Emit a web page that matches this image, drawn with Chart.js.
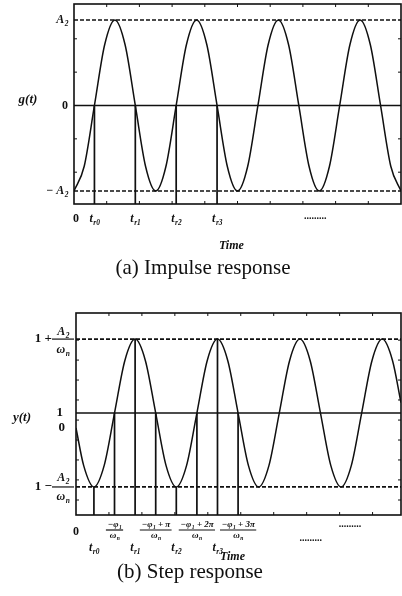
<!DOCTYPE html>
<html>
<head>
<meta charset="utf-8">
<script src="https://cdn.jsdelivr.net/npm/chart.js@4.4.1/dist/chart.umd.min.js"></script>
<style>
    html, body { margin: 0; padding: 0; background: #fff; }
    body { width: 402px; height: 596px; position: relative; overflow: hidden; }
    canvas { position: absolute; left: 0; }
    #impulseChart { top: 0; }
    #stepChart { top: 300px; }
</style>
</head>
<body>
<canvas id="impulseChart" width="402" height="292"></canvas>
<canvas id="stepChart" width="402" height="296"></canvas>
<script>
// Time axis is in quarter periods of the oscillation

// (a) impulse response g(t), in units of A2
const impulseTime = [0, 0.5, 1, 1.5, 2, 2.5, 3, 3.5, 4, 4.5, 5, 5.5, 6, 6.5, 7, 7.5, 8,
    8.5, 9, 9.5, 10, 10.5, 11, 11.5, 12, 12.5, 13, 13.5, 14, 14.5, 15, 15.5, 16];
const impulseValues = [-1, -0.71, 0, 0.71, 1, 0.71, 0, -0.71, -1, -0.71, 0, 0.71, 1, 0.71, 0, -0.71, -1,
    -0.71, 0, 0.71, 1, 0.71, 0, -0.71, -1, -0.71, 0, 0.71, 1, 0.71, 0, -0.71, -1];
const impulseMarkTimes = [1, 3, 5, 7];
const impulseTickTimes = [0, 1, 3, 5, 7];
const impulseTickLabels = ['0', 't_r0', 't_r1', 't_r2', 't_r3'];
const impulseLevels = [1, 0, -1];
const impulseLevelLabels = ['A_2', '0', '− A_2'];

// (b) step response y(t)
const stepTime = [0, 0.37, 0.87, 1.37, 1.87, 2.37, 2.87, 3.37, 3.87, 4.37, 4.87, 5.37, 5.87, 6.37, 6.87,
    7.37, 7.87, 8.37, 8.87, 9.37, 9.87, 10.37, 10.87, 11.37, 11.87, 12.37, 12.87, 13.37, 13.87,
    14.37, 14.87, 15.37, 15.78];
const stepValues = [0, -2.49, -3.93, -2.49, 1, 4.49, 5.93, 4.49, 1, -2.49, -3.93, -2.49, 1, 4.49, 5.93,
    4.49, 1, -2.49, -3.93, -2.49, 1, 4.49, 5.93, 4.49, 1, -2.49, -3.93, -2.49, 1,
    4.49, 5.93, 4.49, 1.69];
const stepUpper = 5.93;
const stepLower = -3.93;
const stepFinal = 1;
const stepExtremeTimes = [0.87, 2.87, 4.87, 6.87];
const stepExtremeValues = [-3.93, 5.93, -3.93, 5.93];
const stepExtremeLabels = ['t_r0', 't_r1', 't_r2', 't_r3'];
const stepCrossTimes = [1.87, 3.87, 5.87, 7.87];
const stepCrossLabels = ['−φ_1', '−φ_1 + π', '−φ_1 + 2π', '−φ_1 + 3π'];

// small inner ticks on the frame
const frameTicksX = [1.6, 3.2, 4.8, 6.4, 8, 9.6, 11.2, 12.8, 14.4];
const impulseTicksY = [-0.78, -0.39, 0.39, 0.78];
const stepTicksY = [-4.8, -3.46, -2.13, -0.8, 0.53, 1.87, 3.2, 4.53, 5.86];

const INK = '#101010';
const SERIF = '"Liberation Serif", "DejaVu Serif", serif';

function points(xs, ys) {
    return xs.map((x, i) => ({ x: x, y: ys[i] }));
}

function hLine(y, x0, x1, dashed, width) {
    return {
        data: [{ x: x0, y: y }, { x: x1, y: y }],
        borderColor: INK,
        borderWidth: width,
        borderDash: dashed ? [4, 2] : [],
        pointRadius: 0
    };
}

function vLine(x, y0, y1) {
    return {
        data: [{ x: x, y: y0 }, { x: x, y: y1 }],
        borderColor: INK,
        borderWidth: 1.7,
        pointRadius: 0
    };
}

function curve(xs, ys) {
    return {
        data: points(xs, ys),
        borderColor: INK,
        borderWidth: 1.5,
        pointRadius: 0,
        cubicInterpolationMode: 'monotone'
    };
}

// Draw text with "_xx" parts as subscripts
function drawRuns(ctx, text, x, y, size, align, italic) {
    const parts = text.split(/(_[A-Za-z0-9]+)/).filter(p => p);
    let total = 0;
    const runs = parts.map(p => {
        const sub = p[0] === '_';
        const t = sub ? p.slice(1) : p;
        const s = sub ? size * 0.62 : size;
        const font = (italic ? 'italic ' : '') + 'bold ' + s + 'px ' + SERIF;
        ctx.font = font;
        const w = ctx.measureText(t).width;
        total += w;
        return { t, sub, font, w };
    });
    let cx = align === 'center' ? x - total / 2 : align === 'right' ? x - total : x;
    ctx.textAlign = 'left';
    ctx.textBaseline = 'middle';
    runs.forEach(r => {
        ctx.font = r.font;
        ctx.fillText(r.t, cx, r.sub ? y + size * 0.32 : y);
        cx += r.w + (r.sub ? 0 : 0.5);
    });
    return total;
}

function drawFraction(ctx, num, den, cx, barY, size, upGap, downGap, barWidth) {
    drawRuns(ctx, num, cx, barY - upGap, size, 'center', true);
    drawRuns(ctx, den, cx, barY + downGap, size, 'center', true);
    ctx.lineWidth = 1.2;
    ctx.beginPath();
    ctx.moveTo(cx - barWidth / 2, barY);
    ctx.lineTo(cx + barWidth / 2, barY);
    ctx.stroke();
}

function drawFrame(chart, ticksY) {
    const ctx = chart.ctx;
    const a = chart.chartArea;
    const xs = chart.scales.x, ys = chart.scales.y;
    ctx.strokeStyle = INK;
    ctx.lineWidth = 1.6;
    ctx.strokeRect(a.left, a.top, a.right - a.left, a.bottom - a.top);
    ctx.lineWidth = 1;
    ctx.beginPath();
    frameTicksX.forEach(t => {
        const px = xs.getPixelForValue(t);
        ctx.moveTo(px, a.top); ctx.lineTo(px, a.top + 3);
        ctx.moveTo(px, a.bottom); ctx.lineTo(px, a.bottom - 3);
    });
    ticksY.forEach(v => {
        const py = ys.getPixelForValue(v);
        ctx.moveTo(a.left, py); ctx.lineTo(a.left + 3, py);
        ctx.moveTo(a.right, py); ctx.lineTo(a.right - 3, py);
    });
    ctx.stroke();
}

// Labels for the impulse response
function drawImpulseLabels(chart) {
    const ctx = chart.ctx;
    const a = chart.chartArea;
    const xs = chart.scales.x, ys = chart.scales.y;
    drawFrame(chart, impulseTicksY);
    ctx.fillStyle = INK;

    impulseLevels.forEach((v, i) => {
        const lab = impulseLevelLabels[i];
        drawRuns(ctx, lab, a.left - 6, ys.getPixelForValue(v), 12, 'right', lab !== '0');
    });
    drawRuns(ctx, 'g(t)', a.left - 46, ys.getPixelForValue(0) - 6, 13, 'center', true);

    impulseTickTimes.forEach((t, i) => {
        const lab = impulseTickLabels[i];
        const px = xs.getPixelForValue(t) + (i === 0 ? 2 : 0);
        drawRuns(ctx, lab, px, a.bottom + 15, 12, 'center', lab !== '0');
    });
    ctx.font = 'bold 10px ' + SERIF;
    ctx.textAlign = 'center';
    ctx.fillText('.........', xs.getPixelForValue(11.8), a.bottom + 12);
    drawRuns(ctx, 'Time', xs.getPixelForValue(7.7), a.bottom + 42, 12, 'center', true);

    ctx.font = '21px ' + SERIF;
    ctx.textAlign = 'center';
    ctx.textBaseline = 'middle';
    ctx.fillText('(a) Impulse response', 203, 268);
}

// Labels for the step response
function drawStepLabels(chart) {
    const ctx = chart.ctx;
    const a = chart.chartArea;
    const xs = chart.scales.x, ys = chart.scales.y;
    drawFrame(chart, stepTicksY);
    ctx.fillStyle = INK;

    const upY = ys.getPixelForValue(stepUpper);
    const lowY = ys.getPixelForValue(stepLower);
    drawRuns(ctx, '1 +', a.left - 24, upY, 13, 'right', false);
    drawFraction(ctx, 'A_2', 'ω_n', a.left - 13, upY, 12, 7, 11, 22);
    drawRuns(ctx, '1 −', a.left - 24, lowY, 13, 'right', false);
    drawFraction(ctx, 'A_2', 'ω_n', a.left - 13, lowY, 12, 9, 10, 22);
    drawRuns(ctx, '1', a.left - 13, ys.getPixelForValue(stepFinal), 13, 'right', false);
    drawRuns(ctx, '0', a.left - 11, ys.getPixelForValue(0), 13, 'right', false);
    drawRuns(ctx, 'y(t)', a.left - 54, ys.getPixelForValue(stepFinal) + 5, 13, 'center', true);

    drawRuns(ctx, '0', xs.getPixelForValue(0), a.bottom + 17, 12, 'center', false);
    stepExtremeTimes.forEach((t, i) => {
        drawRuns(ctx, stepExtremeLabels[i], xs.getPixelForValue(t), a.bottom + 33, 12, 'center', true);
    });
    stepCrossTimes.forEach((t, i) => {
        const lab = stepCrossLabels[i];
        ctx.font = 'italic bold 9px ' + SERIF;
        const w = ctx.measureText(lab.replace('_', '')).width + 2;
        drawFraction(ctx, lab, 'ω_n', xs.getPixelForValue(t), a.bottom + 15, 9, 5, 6, w);
    });
    ctx.font = 'bold 10px ' + SERIF;
    ctx.textAlign = 'center';
    ctx.fillText('.........', xs.getPixelForValue(13.3), a.bottom + 9);
    ctx.fillText('.........', xs.getPixelForValue(11.4), a.bottom + 23);
    drawRuns(ctx, 'Time', xs.getPixelForValue(7.6), a.bottom + 42, 12, 'center', true);

    ctx.font = '21px ' + SERIF;
    ctx.textAlign = 'center';
    ctx.textBaseline = 'middle';
    ctx.fillText('(b) Step response', 190, 272);
}

function makeChart(id, xMax, yMin, yMax, padding, datasets, drawLabels) {
    const ctx = document.getElementById(id).getContext('2d');
    return new Chart(ctx, {
        type: 'line',
        data: { datasets: datasets },
        options: {
            responsive: false,
            animation: false,
            layout: { padding: padding },
            scales: {
                x: { type: 'linear', min: 0, max: xMax, display: false },
                y: { type: 'linear', min: yMin, max: yMax, display: false }
            },
            plugins: {
                legend: { display: false },
                tooltip: { enabled: false }
            }
        },
        plugins: [{ id: id + 'Labels', afterDraw: drawLabels }]
    });
}

// (a) impulse response
const impulseMin = -1.152, impulseMax = 1.187, impulseEnd = 16;
const impulseSets = [
    hLine(0, 0, impulseEnd, false, 1.5),
    hLine(1, 0, impulseEnd, true, 1.7),
    hLine(-1, 0, impulseEnd, true, 1.7)
];
impulseMarkTimes.forEach(t => impulseSets.push(vLine(t, 0, impulseMin)));
impulseSets.push(curve(impulseTime, impulseValues));
makeChart('impulseChart', impulseEnd, impulseMin, impulseMax,
    { left: 74, right: 1, top: 4, bottom: 88 }, impulseSets, drawImpulseLabels);

// (b) step response
const stepMin = -5.8, stepMax = 7.67, stepEnd = 15.78;
const stepSets = [
    hLine(stepFinal, 0, stepEnd, false, 1.5),
    hLine(stepUpper, 0, stepEnd, true, 1.7),
    hLine(stepLower, 0, stepEnd, true, 1.7)
];
stepExtremeTimes.forEach((t, i) => stepSets.push(vLine(t, stepExtremeValues[i], stepMin)));
stepCrossTimes.forEach(t => stepSets.push(vLine(t, stepFinal, stepMin)));
stepSets.push(curve(stepTime, stepValues));
makeChart('stepChart', stepEnd, stepMin, stepMax,
    { left: 76, right: 1, top: 13, bottom: 81 }, stepSets, drawStepLabels);
</script>
</body>
</html>
